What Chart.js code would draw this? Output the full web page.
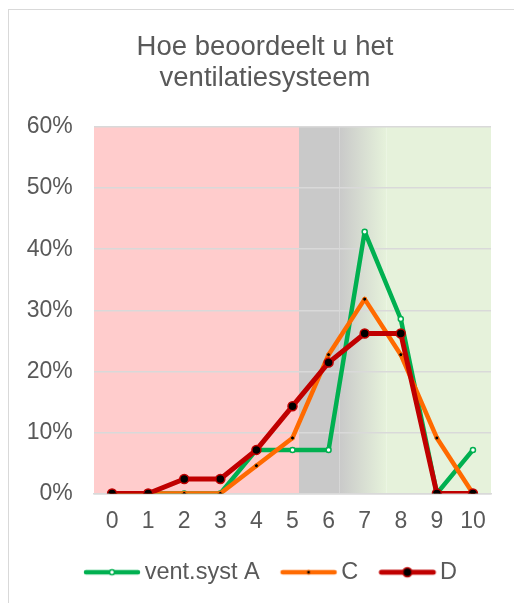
<!DOCTYPE html>
<html>
<head>
<meta charset="utf-8">
<script src="https://cdn.jsdelivr.net/npm/chart.js@4/dist/chart.umd.min.js"></script>
<style>
  html, body { margin: 0; padding: 0; background: #ffffff; }
  #wrap { position: relative; width: 514px; height: 603px; }
</style>
</head>
<body>
<div id="wrap"><canvas id="c" width="514" height="603"></canvas></div>
<script>
// Score categories 0..10
const categories = ['0', '1', '2', '3', '4', '5', '6', '7', '8', '9', '10'];

// Share of answers per score (%)
const ventSystA = [0, 0, 0, 0, 7.14, 7.14, 7.14, 42.86, 28.57, 0, 7.14];
const systC     = [0, 0, 0, 0, 4.55, 9.09, 22.73, 31.82, 22.73, 9.09, 0];
const systD     = [0, 0, 2.38, 2.38, 7.14, 14.29, 21.43, 26.19, 26.19, 0, 0];

const seriesNames = ['vent.syst A', 'C', 'D'];
const yTicks = [0, 10, 20, 30, 40, 50, 60];

const GREEN = '#00B050';
const ORANGE = '#FF6A00';
const RED = '#C00000';
const TEXT = '#595959';
const FONT = 'Liberation Sans, Arial, sans-serif';

// Legend swatch: a short line with the series marker in the middle,
// with some empty room on its left so the swatch sits close to its text
const SWATCH_LEAD = 18;
function swatch(color, width, r, fill, bw) {
  const cv = document.createElement('canvas');
  cv.width = 60 + SWATCH_LEAD; cv.height = 14;
  const g = cv.getContext('2d');
  g.translate(SWATCH_LEAD, 0);
  g.strokeStyle = color;
  g.lineWidth = width;
  g.lineCap = 'round';
  g.beginPath(); g.moveTo(4, 7); g.lineTo(56, 7); g.stroke();
  g.beginPath(); g.arc(30, 7, r, 0, Math.PI * 2);
  g.fillStyle = fill; g.fill();
  g.lineWidth = bw; g.strokeStyle = color; g.stroke();
  return cv;
}

// Rating zones painted behind the grid: poor (red), neutral (grey), good (green)
const zones = {
  id: 'zones',
  beforeDraw(chart) {
    const { ctx, chartArea: a, scales: { x } } = chart;
    const xRed = x.getPixelForValue(5.18);
    const xGrey = x.getPixelForValue(6.3);
    const xGreen = x.getPixelForValue(7.6);
    ctx.save();
    ctx.fillStyle = '#FFCCCC';
    ctx.fillRect(a.left, a.top, xRed - a.left, a.bottom - a.top);
    const grad = ctx.createLinearGradient(xGrey, 0, xGreen, 0);
    grad.addColorStop(0, '#C9C9C9');
    grad.addColorStop(1, '#E6F2DB');
    ctx.fillStyle = '#C9C9C9';
    ctx.fillRect(xRed, a.top, xGrey - xRed, a.bottom - a.top);
    ctx.fillStyle = grad;
    ctx.fillRect(xGrey, a.top, xGreen - xGrey, a.bottom - a.top);
    ctx.fillStyle = '#E6F2DB';
    ctx.fillRect(xGreen, a.top, a.right - xGreen, a.bottom - a.top);
    ctx.restore();
    // outer frame
    ctx.save();
    ctx.strokeStyle = '#D9D9D9';
    ctx.lineWidth = 1;
    ctx.strokeRect(8.5, 9.5, 540, 640);
    ctx.restore();
  }
};

const common = {
  borderCapStyle: 'round',
  borderJoinStyle: 'round',
  tension: 0,
  pointHoverRadius: 4
};

new Chart(document.getElementById('c'), {
  type: 'line',
  data: {
    labels: categories,
    datasets: [
      Object.assign({}, common, {
        label: seriesNames[0], data: ventSystA, order: 2,
        borderColor: GREEN, borderWidth: 4.5,
        pointRadius: 2.5, pointBackgroundColor: '#ffffff',
        pointBorderColor: GREEN, pointBorderWidth: 1.5,
        pointStyle: 'circle'
      }),
      Object.assign({}, common, {
        label: seriesNames[1], data: systC, order: 1,
        borderColor: ORANGE, borderWidth: 4.5,
        pointRadius: 2, pointBackgroundColor: '#000000',
        pointBorderColor: ORANGE, pointBorderWidth: 1
      }),
      Object.assign({}, common, {
        label: seriesNames[2], data: systD, order: 0,
        borderColor: RED, borderWidth: 5,
        pointRadius: 4.5, pointBackgroundColor: '#000000',
        pointBorderColor: RED, pointBorderWidth: 1.5
      })
    ]
  },
  options: {
    responsive: false,
    animation: false,
    layout: { padding: { left: 16, right: 0, top: 0, bottom: 9 } },
    plugins: {
      title: {
        display: true,
        text: ['Hoe beoordeelt u het', 'ventilatiesysteem'],
        color: TEXT,
        font: { family: FONT, size: 27.5, weight: 'normal', lineHeight: 1.14 },
        padding: { top: 31.7, bottom: 32.6 }
      },
      legend: {
        position: 'bottom',
        labels: {
          color: TEXT,
          font: { family: FONT, size: 23.5 },
          usePointStyle: true,
          pointStyleWidth: 60,
          padding: 10,
          sort: (a, b) => a.datasetIndex - b.datasetIndex,
          generateLabels(chart) {
            const sw = [
              swatch(GREEN, 4.5, 2.5, '#ffffff', 1.5),
              swatch(ORANGE, 4.5, 2, '#000000', 1),
              swatch(RED, 5, 4.5, '#000000', 1.5)
            ];
            return chart.data.datasets.map((ds, i) => ({
              text: ds.label,
              datasetIndex: i,
              pointStyle: sw[i],
              fontColor: TEXT,
              lineWidth: 0,
              strokeStyle: 'transparent',
              fillStyle: 'transparent'
            }));
          }
        }
      },
      tooltip: { enabled: false }
    },
    scales: {
      x: {
        offset: true,
        afterFit(axis) { axis.height = 57; },
        grid: { display: false, drawTicks: false, offset: true },
        border: { display: true, color: '#D9D9D9', width: 1.5 },
        ticks: {
          color: TEXT,
          padding: 14.5,
          maxRotation: 0,
          autoSkip: false,
          font: { family: FONT, size: 23 }
        }
      },
      y: {
        min: 0, max: 60,
        afterBuildTicks(axis) { axis.ticks = yTicks.map(v => ({ value: v })); },
        afterFit(axis) { axis.width = 78; },
        grid: { color: '#D9D9D9', lineWidth: 1.5, drawTicks: false },
        border: { display: false },
        ticks: {
          color: TEXT,
          padding: 21.3,
          font: { family: FONT, size: 23 },
          callback: v => v + '%'
        }
      },
      // empty right-hand strip that keeps the plot clear of the frame edge
      y2: {
        position: 'right',
        afterFit(axis) { axis.width = 23; },
        grid: { display: false, drawTicks: false },
        border: { display: false },
        ticks: { display: false }
      }
    }
  },
  plugins: [zones]
});
</script>
</body>
</html>
